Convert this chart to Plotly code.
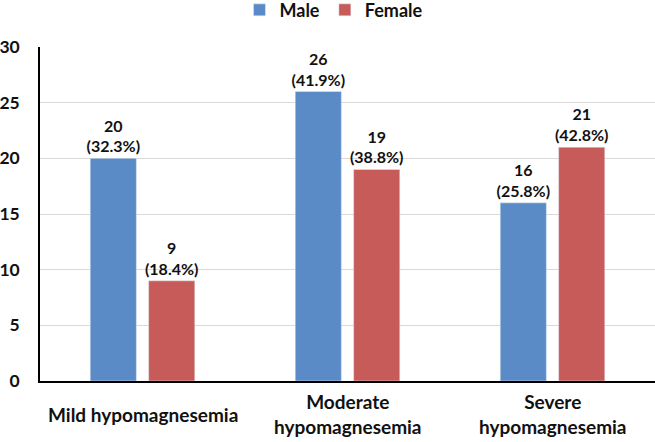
import plotly.graph_objects as go

categories = ["Mild hypomagnesemia", "Moderate hypomagnesemia", "Severe hypomagnesemia"]
category_labels = ["Mild hypomagnesemia", "Moderate<br>hypomagnesemia", "Severe<br>hypomagnesemia"]
male_values = [20, 26, 16]
female_values = [9, 19, 21]
male_pct = ["32.3%", "41.9%", "25.8%"]
female_pct = ["18.4%", "38.8%", "42.8%"]
y_ticks = [0, 5, 10, 15, 20, 25, 30]

FONT = "Lato"
BLUE = "#5B8BC6"
RED = "#C75B5A"
TXT = "#111111"

def labels(vals, pcts):
    return [f"<b>{v}<br>({p})</b>" for v, p in zip(vals, pcts)]

fig = go.Figure()
fig.add_trace(go.Bar(
    name="<b>Male</b>", x=categories, y=male_values, marker_color=BLUE,
    text=labels(male_values, male_pct), textposition="outside", constraintext="none",
    textfont=dict(family=FONT, size=16, color=TXT), cliponaxis=False,
))
fig.add_trace(go.Bar(
    name="<b>Female</b>", x=categories, y=female_values, marker_color=RED,
    text=labels(female_values, female_pct), textposition="outside", constraintext="none",
    textfont=dict(family=FONT, size=16, color=TXT), cliponaxis=False,
))

for c, lab in zip(categories, category_labels):
    fig.add_annotation(x=c, xref="x", y=-0.099, yref="paper", text=f"<b>{lab}</b>",
                       showarrow=False, yanchor="middle", xanchor="center",
                       font=dict(family=FONT, size=19, color=TXT))

fig.update_layout(
    width=655, height=442,
    margin=dict(l=40, r=0, t=47, b=61, autoexpand=False),
    paper_bgcolor="white", plot_bgcolor="white",
    barmode="group", bargap=0.43, bargroupgap=0.21,
    font=dict(family=FONT, size=17, color=TXT),
    legend=dict(orientation="h", x=0.478, xanchor="center", xref="paper",
                y=0.977, yref="container", yanchor="middle",
                font=dict(family=FONT, size=18, color=TXT), itemwidth=30,
                traceorder="normal"),
    showlegend=True,
)
fig.update_xaxes(showticklabels=False, showline=True, linecolor="black", linewidth=1.5,
                 ticks="")
fig.update_yaxes(range=[0, 30], tickvals=y_ticks, ticktext=[f"<b>{t}</b>" for t in y_ticks],
                 showgrid=True, gridcolor="#D9D9D9", gridwidth=1,
                 showline=True, linecolor="black", linewidth=1.5,
                 ticks="", ticklabelstandoff=15, zeroline=False,
                 tickfont=dict(family=FONT, size=17.5, color=TXT))

fig.write_html("out.html", config={"displayModeBar": False},
               post_script="document.body.style.margin='0';document.body.style.padding='0';")
